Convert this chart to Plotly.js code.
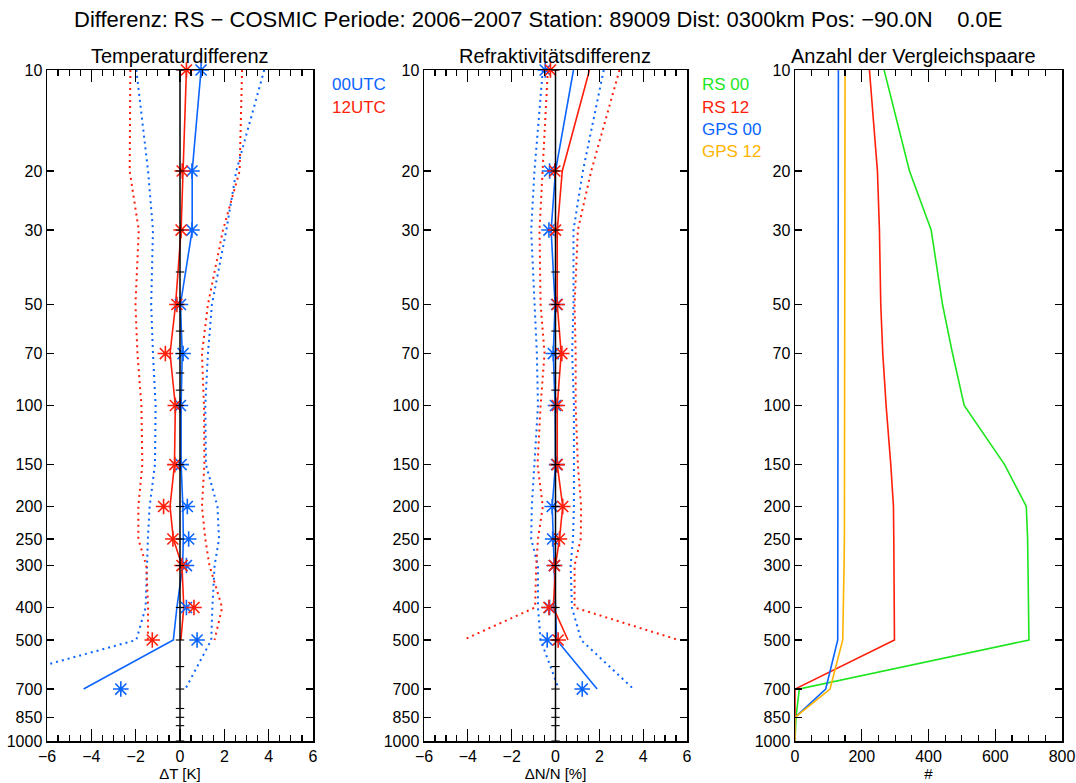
<!DOCTYPE html>
<html><head><meta charset="utf-8">
<script src="https://cdn.plot.ly/plotly-3.0.1.min.js"></script>
<style>html,body{margin:0;padding:0;background:#fff}#plot{width:1076px;height:783px}</style>
</head><body><div id="plot"></div>
<script>
// pressure levels (hPa)
const pressure = [10,20,30,50,70,100,150,200,250,300,400,500,700];
const pressure12 = [10,20,30,50,70,100,150,200,250,300,400,500];
const pressureAll = [10,20,30,50,70,100,150,200,250,300,400,500,700,850,1000];
const pressureTicks = [10,20,30,50,70,100,150,200,250,300,400,500,700,850,1000];
const zeroLineTicks = [10,20,30,40,50,60,70,80,90,100,150,200,250,300,400,500,600,700,800,850,900,1000];

// Temperature difference [K]
const dT00Mean = [0.95,0.55,0.55,0.02,0.1,0.05,0.05,0.13,0.15,0.12,-0.14,-0.3,-4.35];
const dT00Star = [0.95,0.54,0.54,0.02,0.14,0.02,0.05,0.33,0.39,0.29,0.29,0.77,-2.67];
const dT00Lo   = [-1.97,-1.44,-1.22,-1.3,-1.22,-1.1,-1.13,-1.37,-1.45,-1.49,-1.55,-1.97,-10];
const dT00Hi   = [3.8,2.54,2.09,1.44,1.26,1.14,1.17,1.69,1.76,1.56,1.46,1.41,0.24];
const dT12Mean = [0.29,0.15,0.05,-0.2,-0.45,-0.21,-0.25,-0.45,-0.3,0.09,0.17,0.04];
const dT12Star = [0.29,0.1,0.05,-0.14,-0.66,-0.21,-0.23,-0.74,-0.32,0.09,0.63,-1.25];
const dT12Lo   = [-2.24,-2.27,-1.86,-2.01,-1.92,-1.74,-1.7,-1.88,-1.88,-1.52,-1.44,-1.45];
const dT12Hi   = [2.8,2.69,1.94,1.26,0.99,1.08,1.1,0.99,1.14,1.33,1.9,1.56];

// Refractivity difference [%]
const dN00Mean = [0.82,0.0,-0.2,-0.02,-0.1,-0.02,0.0,-0.15,-0.1,-0.05,0.0,0.05,1.9];
const dN00Star = [-0.47,-0.27,-0.3,0.05,-0.1,0.0,0.05,-0.15,-0.13,-0.05,-0.27,-0.38,1.22];
const dN00Lo   = [-0.58,-0.96,-1.11,-0.95,-0.85,-0.8,-0.95,-1.08,-1.11,-0.8,-0.8,-0.68,0.15];
const dN00Hi   = [2.2,1.25,0.82,0.82,0.76,0.84,0.84,0.84,0.8,0.69,0.75,1.17,3.56];
const dN12Mean = [1.55,0.31,0.08,0.08,0.26,0.08,0.08,0.33,0.18,0.0,-0.1,0.57];
const dN12Star = [-0.23,-0.03,0.0,0.08,0.29,0.08,0.08,0.33,0.18,-0.05,-0.3,0.12];
const dN12Lo   = [-0.35,-0.58,-0.73,-0.68,-0.5,-0.68,-0.82,-0.58,-0.8,-0.88,-0.93,-4.22];
const dN12Hi   = [2.92,1.63,1.02,0.87,0.92,0.92,1.02,1.17,1.15,0.87,0.87,5.61];

// Number of comparison pairs
const nRS00  = [267,343,408,442,472,507,628,693,697,698,699,701,13,3,0];
const nRS12  = [223,247,253,257,263,273,287,295,296,296,297,298,0,0,0];
const nGPS00 = [130,130,130,130,130,130,130,130,130,130,130,128,92,0,0];
const nGPS12 = [150,150,150,150,150,150,150,149,148,147,146,143,105,0,0];

const BLUE = '#0a64ff', RED = '#ff1e0a', GREEN = '#1ee61e', ORANGE = '#ffb400';
const FONT = 'Liberation Sans, Arial, Helvetica, sans-serif';

function line(x, y, color, ax, dash) {
  return {type:'scatter', mode:'lines', x:x, y:y, xaxis:'x'+ax, yaxis:'y'+ax,
    line:{color:color, width: dash ? 2 : 1.6, dash: dash || 'solid'}, hoverinfo:'skip', showlegend:false};
}
function stars(x, y, color, ax) {
  return {type:'scatter', mode:'markers', x:x, y:y, xaxis:'x'+ax, yaxis:'y'+ax,
    marker:{symbol:'asterisk-open', size:13, color:color, line:{color:color, width:1.6}},
    hoverinfo:'skip', showlegend:false, cliponaxis:false};
}
function zeroLine(ax) {
  return [
    {type:'scatter', mode:'lines', x:[0,0], y:[10,1000], xaxis:'x'+ax, yaxis:'y'+ax,
      line:{color:'#000', width:1.5}, hoverinfo:'skip', showlegend:false},
    {type:'scatter', mode:'markers', x:zeroLineTicks.map(()=>0), y:zeroLineTicks, xaxis:'x'+ax, yaxis:'y'+ax,
      marker:{symbol:'line-ew-open', size:6, color:'#000', line:{color:'#000', width:1.1}},
      hoverinfo:'skip', showlegend:false, cliponaxis:false}
  ];
}
const D = '2px,4px';
const traces = [
  line(dT00Lo, pressure, BLUE, '', D), line(dT00Hi, pressure, BLUE, '', D),
  line(dT12Lo, pressure12, RED, '', D), line(dT12Hi, pressure12, RED, '', D),
  line(dT00Mean, pressure, BLUE, ''), line(dT12Mean, pressure12, RED, ''),
  stars(dT00Star, pressure, BLUE, ''), stars(dT12Star, pressure12, RED, ''),
  ...zeroLine(''),
  line(dN00Lo, pressure, BLUE, '2', D), line(dN00Hi, pressure, BLUE, '2', D),
  line(dN12Lo, pressure12, RED, '2', D), line(dN12Hi, pressure12, RED, '2', D),
  line(dN00Mean, pressure, BLUE, '2'), line(dN12Mean, pressure12, RED, '2'),
  stars(dN00Star, pressure, BLUE, '2'), stars(dN12Star, pressure12, RED, '2'),
  ...zeroLine('2'),
  line(nRS00, pressureAll, GREEN, '3'), line(nRS12, pressureAll, RED, '3'),
  line(nGPS00, pressureAll, BLUE, '3'), line(nGPS12, pressureAll, ORANGE, '3')
];

const W = 1076, H = 783;
const yTop = 1 - 70/H, yBot = 1 - 741/H;
function xAxis(x0, x1, range, dtick, minorDtick, title, anchor) {
  return {domain:[x0/W, x1/W], range:range, anchor:anchor, showgrid:false, zeroline:false,
    showline:true, linecolor:'#000', linewidth:1.5, mirror:'ticks',
    ticks:'inside', ticklen:12, tickwidth:1.2, tickcolor:'#000', dtick:dtick, tick0:0,
    minor:{ticks:'inside', ticklen:6, dtick:minorDtick, tickwidth:1.2, tickcolor:'#000', showgrid:false},
    tickfont:{family:FONT, size:16, color:'#000'},
    title:{text:title, font:{family:FONT, size:15, color:'#000'}, standoff:0}, fixedrange:true};
}
function yAxis(anchor) {
  return {domain:[yBot, yTop], type:'log', range:[3, 1], anchor:anchor, showgrid:false, zeroline:false,
    showline:true, linecolor:'#000', linewidth:1.5, mirror:'ticks',
    ticks:'inside', ticklen:7, tickwidth:1.2, tickcolor:'#000',
    tickmode:'array', tickvals:pressureTicks, ticktext:pressureTicks.map(String),
    tickfont:{family:FONT, size:16, color:'#000'}, fixedrange:true};
}
function ann(text, px, py, color, size, xanchor) {
  return {text:text, x:px/W, y:1-py/H, xref:'paper', yref:'paper', showarrow:false,
    xanchor:xanchor||'center', yanchor:'middle', font:{family:FONT, size:size, color:color}};
}
const layout = {
  width:W, height:H, margin:{l:0, r:0, t:0, b:0}, paper_bgcolor:'#fff', plot_bgcolor:'#fff',
  showlegend:false, font:{family:FONT, color:'#000'},
  xaxis: xAxis(47, 313, [-6, 6], 2, 0.5, '\u0394T [K]', 'y'),
  yaxis: yAxis('x'),
  xaxis2: xAxis(424, 687, [-6, 6], 2, 0.5, '\u0394N/N [%]', 'y2'),
  yaxis2: yAxis('x2'),
  xaxis3: xAxis(795, 1062, [0, 800], 200, 50, '#', 'y3'),
  yaxis3: yAxis('x3'),
  annotations: [
    ann('Differenz: RS \u2212 COSMIC Periode: 2006\u22122007 Station: 89009 Dist: 0300km Pos: \u221290.0N    0.0E', 538, 19, '#000', 22),
    ann('Temperaturdifferenz', 180, 56, '#000', 20),
    ann('Refraktivit\u00e4tsdifferenz', 555, 56, '#000', 20),
    ann('Anzahl der Vergleichspaare', 913, 56, '#000', 20),
    ann('00UTC', 330, 85, BLUE, 17, 'left'),
    ann('12UTC', 330, 107, RED, 17, 'left'),
    ann('RS 00', 700, 85, GREEN, 17, 'left'),
    ann('RS 12', 700, 107, RED, 17, 'left'),
    ann('GPS 00', 700, 129, BLUE, 17, 'left'),
    ann('GPS 12', 700, 151, ORANGE, 17, 'left')
  ]
};
Plotly.newPlot('plot', traces, layout, {staticPlot:true, displayModeBar:false});
</script></body></html>
